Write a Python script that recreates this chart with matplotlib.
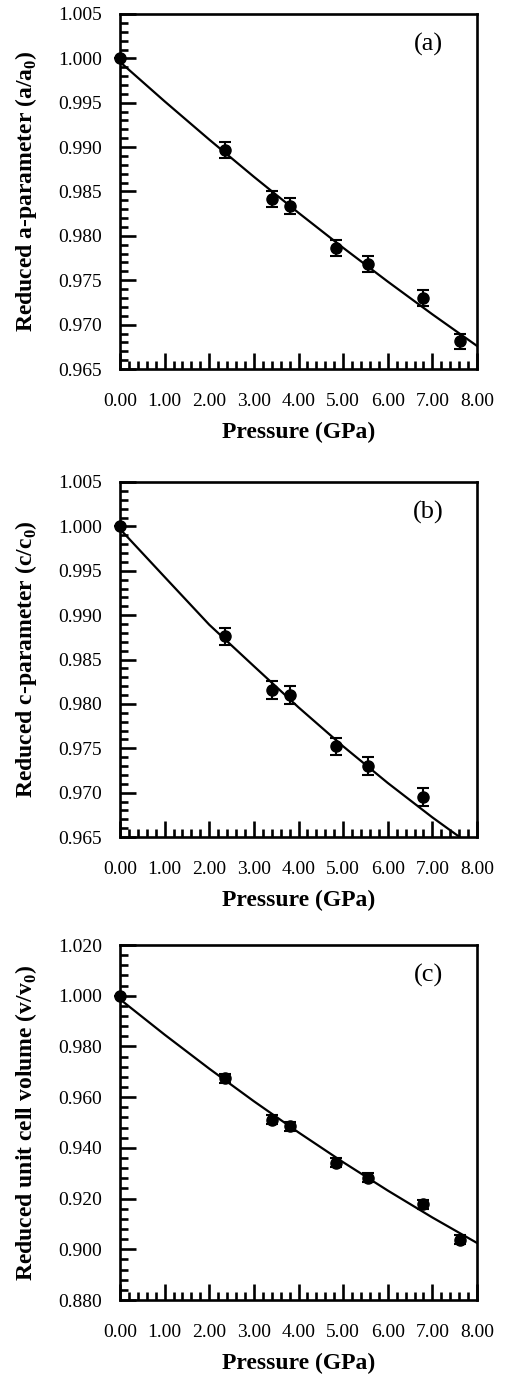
import matplotlib
matplotlib.use("Agg")
import matplotlib.pyplot as plt
from matplotlib.ticker import MultipleLocator, FormatStrFormatter

plt.rcParams['font.family'] = ['Liberation Serif', 'DejaVu Serif']
plt.rcParams['mathtext.fontset'] = 'custom'
plt.rcParams['mathtext.rm'] = 'Liberation Serif'
plt.rcParams['mathtext.bf'] = 'Liberation Serif:bold'

# measured pressures (GPa)
pressure = [0.00, 2.35, 3.40, 3.80, 4.85, 5.56, 6.80, 7.62]

# reduced a-parameter
a_ratio = [1.0000, 0.9897, 0.9842, 0.9834, 0.9786, 0.9768, 0.9730, 0.9681]
a_err = [0.0, 0.0009, 0.0009, 0.0009, 0.0009, 0.0009, 0.0009, 0.0009]

# reduced c-parameter (last pressure falls below the axis)
c_ratio = [1.0000, 0.9876, 0.9816, 0.9810, 0.9752, 0.9730, 0.9695]
c_err = [0.0, 0.001, 0.001, 0.001, 0.001, 0.001, 0.001]

# reduced unit cell volume
v_ratio = [1.000, 0.9674, 0.9511, 0.9485, 0.9341, 0.9283, 0.9177, 0.9037]
v_err = [0.0, 0.0018, 0.0018, 0.0018, 0.0018, 0.0018, 0.0018, 0.0018]

# fitted curves
fit_p = [0, 1, 2, 3, 4, 5, 6, 7, 8]
fit_a = [0.9996, 0.99516, 0.99085, 0.98666, 0.9826, 0.97866, 0.97485, 0.97116, 0.9676]
fit_c = [0.9997, 0.99430, 0.98892, 0.98425, 0.97961, 0.97522, 0.97109, 0.96721, 0.96358]
fit_v = [0.9986, 0.98464, 0.97123, 0.95838, 0.9461, 0.93435, 0.92317, 0.91254, 0.9025]

panels = [
    (pressure, a_ratio, a_err, fit_a, 'Reduced a-parameter (a/a$_\\mathbf{0}$)', '(a)',
     (0.965, 1.005), 0.005, 0.001),
    (pressure[:7], c_ratio, c_err, fit_c, 'Reduced c-parameter (c/c$_\\mathbf{0}$)', '(b)',
     (0.965, 1.005), 0.005, 0.001),
    (pressure, v_ratio, v_err, fit_v, 'Reduced unit cell volume (v/v$_\\mathbf{0}$)', '(c)',
     (0.880, 1.020), 0.020, 0.004),
]

fig = plt.figure(figsize=(5.05, 13.76), dpi=100)
W, H = 505, 1376
boxes = [(14, 369), (482, 837), (945, 1300)]

for (px, py, err, fit, ylab, tag, ylim, major, minor), (top, bot) in zip(panels, boxes):
    ax = fig.add_axes([120 / W, 1 - bot / H, 357 / W, (bot - top) / H])
    ax.plot(fit_p, fit, color='black', lw=1.6, zorder=2)
    ax.errorbar(px, py, yerr=err, fmt='o', color='black', ms=8, elinewidth=1.5,
                capsize=4, capthick=1.5, zorder=3, clip_on=False)
    ax.set_xlim(0, 8)
    ax.set_ylim(*ylim)
    ax.xaxis.set_major_locator(MultipleLocator(1))
    ax.xaxis.set_minor_locator(MultipleLocator(0.2))
    ax.yaxis.set_major_locator(MultipleLocator(major))
    ax.yaxis.set_minor_locator(MultipleLocator(minor))
    ax.xaxis.set_major_formatter(FormatStrFormatter('%.2f'))
    ax.yaxis.set_major_formatter(FormatStrFormatter('%.3f'))
    ax.tick_params(which='both', direction='in', top=False, right=False, width=1.9)
    ax.tick_params(which='major', length=11.5)
    ax.tick_params(which='minor', length=6)
    ax.tick_params(axis='x', which='major', pad=17, labelsize=14)
    ax.tick_params(axis='y', which='major', pad=13, labelsize=14)
    for s in ax.spines.values():
        s.set_linewidth(1.9)
    ax.set_xlabel('Pressure (GPa)', fontsize=17, fontweight='bold')
    ax.xaxis.set_label_coords(0.5, -0.148)
    ax.set_ylabel(ylab, fontsize=17, fontweight='bold')
    ax.yaxis.set_label_coords(-0.228, 0.5)
    ax.text(0.863, 0.913, tag, transform=ax.transAxes, ha='center', va='center',
            fontsize=19)

fig.savefig('out.png', dpi=100)
